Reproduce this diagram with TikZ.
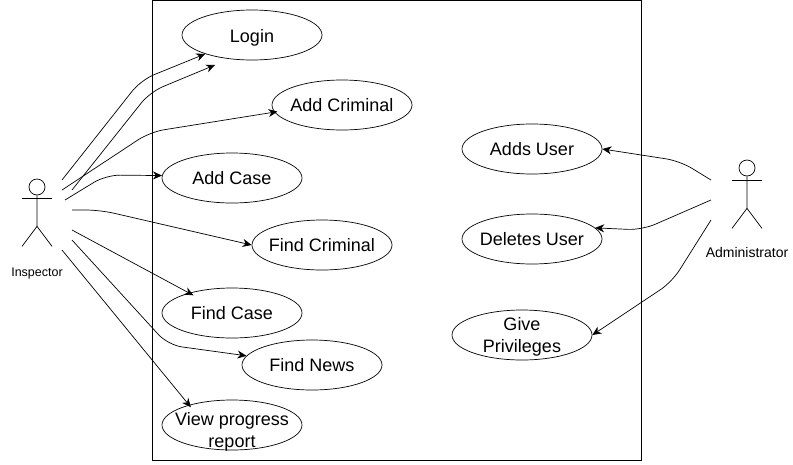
\documentclass[tikz,border=0pt]{standalone}
\usepackage{fontspec}
\setmainfont{Liberation Sans}
\usetikzlibrary{positioning,shapes.geometric,arrows.meta}

\begin{document}
\begin{tikzpicture}
[x=1pt,y=-1pt,on grid,line width=0.7pt,
usecase/.style={draw,ellipse,minimum width=140pt,minimum height=50pt,
  inner xsep=-30pt,inner ysep=-15pt,align=center,
  font=\fontsize{18}{22}\selectfont},
head/.style={draw,circle,minimum size=16pt,inner sep=0pt},
actorname/.style={font=\fontsize{#1}{14}\selectfont},
link/.style={->,>={Stealth[length=9pt,width=8pt]},rounded corners=14pt}]
\useasboundingbox (0,0) rectangle (793,464);
\node[draw,minimum width=489pt,minimum height=460pt,inner sep=0pt,line width=1pt](system) at (396.5,230){};
% use cases of the inspector
\node[usecase](login) at (252,35){\rule{0pt}{18pt}Login};
\node[usecase,below right=70pt and 90pt of login](addcriminal){Add Criminal};
\node[usecase,below left=73pt and 110pt of addcriminal](addcase){Add Case};
\node[usecase,below right=67pt and 90pt of addcase](findcriminal){Find Criminal};
\node[usecase,below left=68pt and 90pt of findcriminal](findcase){Find Case};
\node[usecase,below right=52pt and 80pt of findcase](findnews){Find News};
\node[usecase,below=112pt of findcase](viewreport){\rule{0pt}{27pt}View progress\\report};
% use cases of the administrator
\node[usecase](addsuser) at (532,149){Adds User};
\node[usecase,below=90pt of addsuser](deletesuser){Deletes User};
\node[usecase,below left=96pt and 10pt of deletesuser](giveprivileges){\rule{0pt}{17pt}Give\\Privileges};
% the two actors
\node[head](inspector) at (37,187){};
\node[actorname=12.5,below=86pt of inspector](inspectorname){Inspector};
\draw (inspector.south) -- ++(0,31) coordinate(ihip) -- ++(-15,20);
\draw (ihip) -- ++(15,20);
\draw ([xshift=-15pt,yshift=-3pt]inspector.south) -- ++(30,0);
\node[head](administrator) at (747,168){};
\node[actorname=14,below=84pt of administrator](administratorname){Administrator};
\draw (administrator.south) -- ++(0,32) coordinate(ahip) -- ++(-15,20);
\draw (ahip) -- ++(15,20);
\draw ([xshift=-15pt,yshift=-4pt]administrator.south) -- ++(30,0);
% free ends of the connectors
\coordinate (i1) at (62,180);
\coordinate (i2) at (72,190);
\coordinate (i3) at (62,190);
\coordinate (i4) at (65,200);
\coordinate (i5) at (72,210);
\coordinate (i6) at (72,230);
\coordinate (i7) at (72,240);
\coordinate (i8) at (62,250);
\coordinate (a1) at (711,180);
\coordinate (a2) at (711,200);
\coordinate (a3) at (711,220);
\coordinate (loginbelow) at (215,65);
\draw[link] (i1) -- (141,80) -- (login.202);
\draw[link] (i2) -- (150,92) -- (loginbelow);
\draw[link,shorten >=-3pt] (i3) -- (150,132) -- (addcriminal.186);
\draw[link] (i4) -- (106,175) -- (addcase.178);
\draw[link] (i5) -- (100,210) -- (findcriminal.west);
\draw[link,shorten >=-5pt] (i6) -- (findcase.155);
\draw[link] (i7) -- (168,345) -- (findnews.172);
\draw[link,shorten >=-3pt] (i8) -- (viewreport.155);
\draw[link] (a1) -- (680,161) -- (addsuser.east);
\draw[link] (a2) -- (642,230) -- (deletesuser.10);
\draw[link] (a3) -- (672,282) -- (giveprivileges.east);
\end{tikzpicture}
\end{document}
